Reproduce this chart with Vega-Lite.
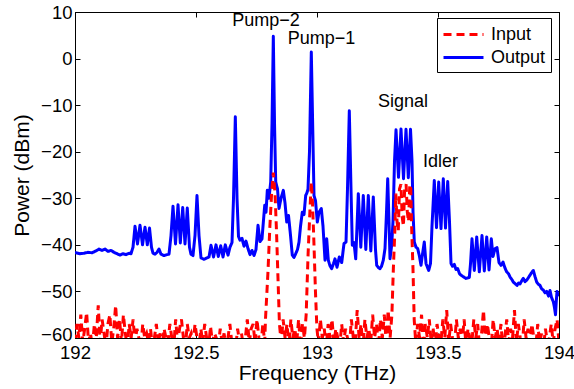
{
  "$schema": "https://vega.github.io/schema/vega-lite/v6.json",
  "width": 484,
  "height": 326,
  "autosize": "none",
  "padding": {"left": 75, "top": 12, "right": 15, "bottom": 51},
  "background": "white",
  "datasets": {
    "output": [
      {"f":192.0000,"p":-41.7},{"f":192.0042,"p":-41.7},{"f":192.0207,"p":-41.9},{"f":192.0372,"p":-41.8},{"f":192.0537,"p":-41.6},{"f":192.0703,"p":-41.7},{"f":192.0868,"p":-41.3},{"f":192.0992,"p":-40.9},{"f":192.1116,"p":-41.2},{"f":192.1240,"p":-40.9},{"f":192.1364,"p":-41.4},{"f":192.1488,"p":-41.2},{"f":192.1612,"p":-41.6},{"f":192.1736,"p":-41.9},{"f":192.1859,"p":-42.2},{"f":192.1984,"p":-41.9},{"f":192.2107,"p":-42.1},{"f":192.2232,"p":-41.8},{"f":192.2314,"p":-41.9},
      {"f":192.2397,"p":-40.5},{"f":192.2480,"p":-36.0},{"f":192.2583,"p":-39.8},{"f":192.2686,"p":-35.8},{"f":192.2790,"p":-40.0},{"f":192.2893,"p":-36.2},{"f":192.2988,"p":-40.0},{"f":192.3079,"p":-36.4},{"f":192.3161,"p":-40.5},{"f":192.3223,"p":-41.8},{"f":192.3306,"p":-42.0},{"f":192.3389,"p":-41.6},{"f":192.3471,"p":-40.9},{"f":192.3554,"p":-42.0},{"f":192.3678,"p":-42.3},{"f":192.3802,"p":-42.1},{"f":192.3884,"p":-42.0},
      {"f":192.3967,"p":-38.0},{"f":192.4050,"p":-31.7},{"f":192.4153,"p":-39.8},{"f":192.4257,"p":-31.4},{"f":192.4352,"p":-39.6},{"f":192.4451,"p":-32.0},{"f":192.4546,"p":-39.8},{"f":192.4640,"p":-32.1},{"f":192.4731,"p":-40.5},{"f":192.4793,"p":-42.0},{"f":192.4876,"p":-42.3},{"f":192.4959,"p":-38.0},{"f":192.5041,"p":-29.4},{"f":192.5124,"p":-38.0},{"f":192.5207,"p":-42.8},{"f":192.5331,"p":-43.1},{"f":192.5454,"p":-42.8},{"f":192.5537,"p":-42.6},
      {"f":192.5620,"p":-40.1},{"f":192.5724,"p":-42.6},{"f":192.5827,"p":-40.0},{"f":192.5922,"p":-42.5},{"f":192.6021,"p":-40.2},{"f":192.6116,"p":-42.6},{"f":192.6211,"p":-40.0},{"f":192.6323,"p":-42.2},{"f":192.6405,"p":-40.5},{"f":192.6488,"p":-39.5},{"f":192.6550,"p":-30.0},{"f":192.6625,"p":-12.5},{"f":192.6695,"p":-30.0},{"f":192.6756,"p":-38.2},{"f":192.6818,"p":-39.0},{"f":192.6901,"p":-38.6},{"f":192.6984,"p":-40.3},{"f":192.7066,"p":-39.2},{"f":192.7149,"p":-40.8},{"f":192.7232,"p":-42.1},{"f":192.7314,"p":-41.2},{"f":192.7397,"p":-42.3},{"f":192.7479,"p":-41.0},{"f":192.7562,"p":-35.8},{"f":192.7645,"p":-39.3},{"f":192.7727,"p":-38.7},{"f":192.7840,"p":-31.5},{"f":192.7893,"p":-33.0},{"f":192.7947,"p":-28.3},{"f":192.8017,"p":-30.0},{"f":192.8087,"p":-26.5},{"f":192.8141,"p":-14.0},{"f":192.8195,"p":4.8},{"f":192.8245,"p":-14.0},{"f":192.8294,"p":-26.5},{"f":192.8368,"p":-28.0},{"f":192.8430,"p":-32.2},{"f":192.8513,"p":-30.0},{"f":192.8608,"p":-28.3},{"f":192.8678,"p":-31.0},{"f":192.8749,"p":-35.1},{"f":192.8823,"p":-33.7},{"f":192.8906,"p":-38.0},{"f":192.8979,"p":-42.2},{"f":192.9049,"p":-42.7},{"f":192.9120,"p":-41.9},{"f":192.9194,"p":-41.0},{"f":192.9257,"p":-39.4},{"f":192.9319,"p":-36.0},{"f":192.9392,"p":-33.0},{"f":192.9463,"p":-33.5},{"f":192.9533,"p":-29.4},{"f":192.9587,"p":-28.8},{"f":192.9628,"p":-28.0},{"f":192.9690,"p":-20.0},{"f":192.9765,"p":1.4},{"f":192.9835,"p":-18.0},{"f":192.9876,"p":-29.4},{"f":192.9938,"p":-30.5},{"f":193.0013,"p":-35.1},{"f":193.0083,"p":-33.0},{"f":193.0178,"p":-32.2},{"f":193.0248,"p":-36.0},
      {"f":193.0331,"p":-43.3},{"f":193.0401,"p":-38.7},{"f":193.0467,"p":-43.3},{"f":193.0538,"p":-44.5},{"f":193.0607,"p":-45.1},{"f":193.0682,"p":-44.0},{"f":193.0744,"p":-43.0},{"f":193.0827,"p":-44.8},{"f":193.0921,"p":-42.6},{"f":193.1021,"p":-43.8},{"f":193.1116,"p":-39.7},{"f":193.1199,"p":-39.4},{"f":193.1260,"p":-28.0},{"f":193.1335,"p":-11.2},{"f":193.1405,"p":-28.0},{"f":193.1459,"p":-40.1},{"f":193.1529,"p":-39.5},{"f":193.1600,"p":-43.0},
      {"f":193.1707,"p":-29.0},{"f":193.1810,"p":-40.5},{"f":193.1913,"p":-29.4},{"f":193.2017,"p":-41.0},{"f":193.2120,"p":-29.4},{"f":193.2223,"p":-41.3},{"f":193.2326,"p":-29.7},{"f":193.2417,"p":-41.0},{"f":193.2467,"p":-44.4},{"f":193.2541,"p":-44.9},{"f":193.2604,"p":-45.1},{"f":193.2666,"p":-44.6},{"f":193.2739,"p":-43.3},{"f":193.2810,"p":-40.8},{"f":193.2872,"p":-33.0},{"f":193.2922,"p":-25.8},{"f":193.2975,"p":-35.0},{"f":193.3017,"p":-43.0},{"f":193.3087,"p":-40.0},{"f":193.3140,"p":-35.0},
      {"f":193.3203,"p":-22.0},{"f":193.3265,"p":-15.3},{"f":193.3368,"p":-25.5},{"f":193.3471,"p":-15.1},{"f":193.3575,"p":-25.8},{"f":193.3678,"p":-15.2},{"f":193.3773,"p":-25.6},{"f":193.3864,"p":-15.2},{"f":193.3926,"p":-22.0},{"f":193.3968,"p":-33.0},{"f":193.4021,"p":-39.4},{"f":193.4091,"p":-40.5},{"f":193.4161,"p":-40.8},{"f":193.4236,"p":-42.5},{"f":193.4298,"p":-44.4},{"f":193.4359,"p":-42.0},{"f":193.4434,"p":-39.4},{"f":193.4504,"p":-44.0},{"f":193.4615,"p":-45.5},{"f":193.4690,"p":-44.0},{"f":193.4752,"p":-36.0},
      {"f":193.4847,"p":-26.2},{"f":193.4938,"p":-36.3},{"f":193.5029,"p":-26.5},{"f":193.5124,"p":-36.5},{"f":193.5219,"p":-25.8},{"f":193.5310,"p":-36.4},{"f":193.5401,"p":-26.4},{"f":193.5475,"p":-35.0},{"f":193.5538,"p":-44.0},{"f":193.5600,"p":-44.6},{"f":193.5673,"p":-44.2},{"f":193.5744,"p":-45.3},{"f":193.5814,"p":-45.1},{"f":193.5889,"p":-46.2},{"f":193.5951,"p":-46.5},{"f":193.6033,"p":-46.8},{"f":193.6157,"p":-47.2},{"f":193.6294,"p":-47.0},
      {"f":193.6344,"p":-44.0},{"f":193.6405,"p":-38.7},{"f":193.6501,"p":-45.5},{"f":193.6600,"p":-38.3},{"f":193.6707,"p":-45.8},{"f":193.6818,"p":-38.0},{"f":193.6914,"p":-45.6},{"f":193.7013,"p":-38.3},{"f":193.7108,"p":-45.4},{"f":193.7203,"p":-38.7},{"f":193.7273,"p":-42.5},{"f":193.7356,"p":-40.8},{"f":193.7438,"p":-40.6},{"f":193.7521,"p":-43.8},{"f":193.7603,"p":-44.4},{"f":193.7686,"p":-43.7},{"f":193.7769,"p":-45.0},{"f":193.7839,"p":-45.8},{"f":193.7914,"p":-46.2},{"f":193.7976,"p":-46.9},{"f":193.8058,"p":-47.5},{"f":193.8112,"p":-48.0},{"f":193.8182,"p":-48.3},{"f":193.8265,"p":-48.7},{"f":193.8327,"p":-48.2},{"f":193.8389,"p":-48.4},{"f":193.8472,"p":-47.6},{"f":193.8525,"p":-47.2},{"f":193.8595,"p":-47.9},{"f":193.8678,"p":-47.5},{"f":193.8740,"p":-47.0},{"f":193.8802,"p":-46.5},{"f":193.8863,"p":-46.0},{"f":193.8938,"p":-45.5},{"f":193.9008,"p":-46.8},{"f":193.9079,"p":-48.0},{"f":193.9153,"p":-48.5},{"f":193.9215,"p":-48.7},{"f":193.9277,"p":-49.4},{"f":193.9351,"p":-49.7},{"f":193.9421,"p":-50.3},{"f":193.9492,"p":-50.0},{"f":193.9566,"p":-51.0},{"f":193.9628,"p":-49.8},{"f":193.9691,"p":-51.3},{"f":193.9765,"p":-52.2},{"f":193.9814,"p":-53.5},{"f":193.9856,"p":-55.0},{"f":193.9889,"p":-52.0},{"f":193.9918,"p":-50.0},{"f":193.9959,"p":-50.7},{"f":194.0000,"p":-51.0}
    ],
    "input": [
      {"f":192.000,"p":-61},{"f":192.008,"p":-57},{"f":192.016,"p":-60},{"f":192.024,"p":-55},{"f":192.032,"p":-61},{"f":192.040,"p":-58},{"f":192.048,"p":-54.5},{"f":192.056,"p":-61},{"f":192.064,"p":-59},{"f":192.072,"p":-62},{"f":192.080,"p":-57},{"f":192.088,"p":-60},{"f":192.096,"p":-53},{"f":192.104,"p":-61},{"f":192.112,"p":-56},{"f":192.120,"p":-59},{"f":192.128,"p":-62},{"f":192.136,"p":-57},{"f":192.144,"p":-55},{"f":192.152,"p":-61},{"f":192.160,"p":-58},{"f":192.168,"p":-53},{"f":192.176,"p":-60},{"f":192.184,"p":-56},{"f":192.192,"p":-61},{"f":192.200,"p":-55},{"f":192.208,"p":-59},{"f":192.216,"p":-62},{"f":192.224,"p":-57},{"f":192.232,"p":-60},{"f":192.240,"p":-56},{"f":192.248,"p":-61},{"f":192.256,"p":-58},{"f":192.264,"p":-60},{"f":192.272,"p":-62},{"f":192.280,"p":-57},{"f":192.288,"p":-60},{"f":192.296,"p":-59},{"f":192.304,"p":-61},{"f":192.312,"p":-58},{"f":192.320,"p":-62},{"f":192.328,"p":-60},{"f":192.336,"p":-57},{"f":192.344,"p":-61},{"f":192.352,"p":-59},{"f":192.360,"p":-62},{"f":192.368,"p":-58},{"f":192.376,"p":-60},{"f":192.384,"p":-61},{"f":192.392,"p":-57},{"f":192.400,"p":-60},{"f":192.408,"p":-62},{"f":192.416,"p":-56},{"f":192.424,"p":-61},{"f":192.432,"p":-58},{"f":192.440,"p":-56},{"f":192.448,"p":-60},{"f":192.456,"p":-62},{"f":192.464,"p":-57},{"f":192.472,"p":-60},{"f":192.480,"p":-59},{"f":192.488,"p":-61},{"f":192.496,"p":-57},{"f":192.504,"p":-60},{"f":192.512,"p":-62},{"f":192.520,"p":-58},{"f":192.528,"p":-61},{"f":192.536,"p":-57},{"f":192.544,"p":-60},{"f":192.552,"p":-62},{"f":192.560,"p":-57.5},{"f":192.568,"p":-61},{"f":192.576,"p":-59},{"f":192.584,"p":-60},{"f":192.592,"p":-62},{"f":192.600,"p":-58},{"f":192.608,"p":-61},{"f":192.616,"p":-59},{"f":192.624,"p":-62},{"f":192.632,"p":-60},{"f":192.640,"p":-57},{"f":192.648,"p":-61},{"f":192.656,"p":-60},{"f":192.664,"p":-62},{"f":192.672,"p":-58},{"f":192.680,"p":-61},{"f":192.688,"p":-59},{"f":192.696,"p":-62},{"f":192.704,"p":-60},{"f":192.712,"p":-56},{"f":192.720,"p":-61},{"f":192.728,"p":-58},{"f":192.736,"p":-57},{"f":192.744,"p":-61},{"f":192.752,"p":-56},{"f":192.760,"p":-60},{"f":192.768,"p":-62},{"f":192.776,"p":-57},{"f":192.784,"p":-61},
      {"f":192.7871,"p":-56},{"f":192.7972,"p":-46},{"f":192.8053,"p":-36},{"f":192.8124,"p":-29},{"f":192.8195,"p":-24.5},{"f":192.8266,"p":-29},{"f":192.8326,"p":-37},{"f":192.8387,"p":-47},{"f":192.8448,"p":-57},
      {"f":192.852,"p":-61},{"f":192.860,"p":-56},{"f":192.868,"p":-60},{"f":192.876,"p":-57},{"f":192.884,"p":-62},{"f":192.892,"p":-56},{"f":192.900,"p":-60},{"f":192.908,"p":-58},{"f":192.916,"p":-61},{"f":192.924,"p":-56},{"f":192.932,"p":-62},{"f":192.940,"p":-57},{"f":192.948,"p":-60},
      {"f":192.9552,"p":-55},{"f":192.9632,"p":-42},{"f":192.9713,"p":-32},{"f":192.9764,"p":-26.5},{"f":192.9815,"p":-31},{"f":192.9876,"p":-40},{"f":192.9936,"p":-50},{"f":192.9997,"p":-58},
      {"f":193.006,"p":-61},{"f":193.014,"p":-56},{"f":193.022,"p":-60},{"f":193.030,"p":-58},{"f":193.038,"p":-62},{"f":193.046,"p":-57},{"f":193.054,"p":-60},{"f":193.062,"p":-56},{"f":193.070,"p":-61},{"f":193.078,"p":-58},{"f":193.086,"p":-60},{"f":193.094,"p":-62},{"f":193.102,"p":-57},{"f":193.110,"p":-61},{"f":193.118,"p":-58},{"f":193.126,"p":-60},{"f":193.134,"p":-62},{"f":193.142,"p":-56},{"f":193.150,"p":-60},{"f":193.158,"p":-61},{"f":193.166,"p":-54},{"f":193.174,"p":-60},{"f":193.182,"p":-57},{"f":193.190,"p":-62},{"f":193.198,"p":-56},{"f":193.206,"p":-60},{"f":193.214,"p":-58},{"f":193.222,"p":-61},{"f":193.230,"p":-55},{"f":193.238,"p":-60},{"f":193.246,"p":-57},{"f":193.254,"p":-62},{"f":193.262,"p":-56},{"f":193.270,"p":-60},{"f":193.278,"p":-55},{"f":193.286,"p":-61},{"f":193.294,"p":-54},{"f":193.302,"p":-60},
      {"f":193.3095,"p":-55},{"f":193.3156,"p":-45},{"f":193.3216,"p":-37},{"f":193.3257,"p":-29},{"f":193.3307,"p":-35},{"f":193.3358,"p":-37},{"f":193.3409,"p":-28},{"f":193.3469,"p":-27},{"f":193.3520,"p":-34},{"f":193.3571,"p":-36},{"f":193.3621,"p":-28},{"f":193.3682,"p":-27},{"f":193.3733,"p":-33},{"f":193.3783,"p":-35},{"f":193.3834,"p":-27},{"f":193.3875,"p":-28},{"f":193.3915,"p":-37},{"f":193.3966,"p":-45},{"f":193.4016,"p":-56},
      {"f":193.408,"p":-61},{"f":193.416,"p":-57},{"f":193.424,"p":-60},{"f":193.432,"p":-55},{"f":193.440,"p":-62},{"f":193.448,"p":-57},{"f":193.456,"p":-60},{"f":193.464,"p":-56},{"f":193.472,"p":-61},{"f":193.480,"p":-58},{"f":193.488,"p":-62},{"f":193.496,"p":-57},{"f":193.504,"p":-60},{"f":193.512,"p":-61},{"f":193.520,"p":-56},{"f":193.528,"p":-60},{"f":193.536,"p":-54},{"f":193.544,"p":-61},{"f":193.552,"p":-57},{"f":193.560,"p":-60},{"f":193.568,"p":-62},{"f":193.576,"p":-56},{"f":193.584,"p":-60},{"f":193.592,"p":-58},{"f":193.600,"p":-61},{"f":193.608,"p":-56},{"f":193.616,"p":-62},{"f":193.624,"p":-58},{"f":193.632,"p":-60},{"f":193.640,"p":-61},{"f":193.648,"p":-56},{"f":193.656,"p":-60},{"f":193.664,"p":-57},{"f":193.672,"p":-62},{"f":193.680,"p":-59},{"f":193.688,"p":-54},{"f":193.696,"p":-61},{"f":193.704,"p":-57},{"f":193.712,"p":-60},{"f":193.720,"p":-62},{"f":193.728,"p":-56},{"f":193.736,"p":-60},{"f":193.744,"p":-58},{"f":193.752,"p":-61},{"f":193.760,"p":-57},{"f":193.768,"p":-62},{"f":193.776,"p":-60},{"f":193.784,"p":-56},{"f":193.792,"p":-61},{"f":193.800,"p":-58},{"f":193.808,"p":-60},{"f":193.816,"p":-54},{"f":193.824,"p":-61},{"f":193.832,"p":-57},{"f":193.840,"p":-60},{"f":193.848,"p":-62},{"f":193.856,"p":-56},{"f":193.864,"p":-60},{"f":193.872,"p":-58},{"f":193.880,"p":-61},{"f":193.888,"p":-57},{"f":193.896,"p":-60},{"f":193.904,"p":-62},{"f":193.912,"p":-57},{"f":193.920,"p":-61},{"f":193.928,"p":-59},{"f":193.936,"p":-62},{"f":193.944,"p":-58},{"f":193.952,"p":-61},{"f":193.960,"p":-60},{"f":193.968,"p":-57},{"f":193.976,"p":-61},{"f":193.984,"p":-58},{"f":193.992,"p":-56},{"f":194.000,"p":-61}
    ],
    "labels": [
      {"label":"Pump−2","f":192.789,"p":8.0},
      {"label":"Pump−1","f":193.019,"p":4.1},
      {"label":"Signal","f":193.355,"p":-9.4},
      {"label":"Idler","f":193.510,"p":-22.3}
    ]
  },
  "layer": [
    {
      "data": {"name": "output"},
      "transform": [{"calculate": "'Output'", "as": "series"}],
      "mark": {"type": "line", "strokeWidth": 3, "clip": true, "strokeJoin": "round"},
      "encoding": {
        "x": {"field": "f", "type": "quantitative", "scale": {"domain": [192, 194], "nice": false, "zero": false},
          "axis": {"orient": "bottom", "values": [192, 192.5, 193, 193.5, 194], "format": "~f", "title": "Frequency (THz)"}},
        "y": {"field": "p", "type": "quantitative", "scale": {"domain": [-60, 10], "nice": false, "zero": false},
          "axis": {"orient": "left", "values": [-60, -50, -40, -30, -20, -10, 0, 10], "format": "d", "title": "Power (dBm)",
            "labelOffset": {"condition": {"test": "datum.value === -60", "value": -4}, "value": 0}}},
        "color": {"field": "series", "type": "nominal", "scale": {"domain": ["Input", "Output"], "range": ["#ff0000", "#0000ff"]}, "legend": {"title": null}},
        "strokeDash": {"field": "series", "type": "nominal", "scale": {"domain": ["Input", "Output"], "range": [[8, 5], [1, 0]]}, "legend": {"title": null}}
      }
    },
    {
      "data": {"name": "input"},
      "transform": [{"calculate": "'Input'", "as": "series"}],
      "mark": {"type": "line", "strokeWidth": 3, "clip": true},
      "encoding": {
        "x": {"field": "f", "type": "quantitative",
          "axis": {"orient": "top", "values": [192, 192.5, 193, 193.5, 194], "labels": false, "title": null}},
        "y": {"field": "p", "type": "quantitative",
          "axis": {"orient": "right", "values": [-60, -50, -40, -30, -20, -10, 0, 10], "labels": false, "title": null}},
        "color": {"field": "series", "type": "nominal", "legend": {"title": null}},
        "strokeDash": {"field": "series", "type": "nominal", "legend": {"title": null}}
      }
    },
    {
      "data": {"name": "labels"},
      "mark": {"type": "text", "font": "Liberation Sans", "fontSize": 18, "align": "center", "baseline": "middle", "color": "black"},
      "encoding": {
        "x": {"field": "f", "type": "quantitative", "axis": null},
        "y": {"field": "p", "type": "quantitative", "axis": null},
        "text": {"field": "label"}
      }
    }
  ],
  "resolve": {"axis": {"x": "independent", "y": "independent"}},
  "config": {
    "view": {"stroke": "black", "strokeWidth": 1},
    "font": "Liberation Sans",
    "axis": {
      "grid": false,
      "domainColor": "black",
      "domainWidth": 1,
      "tickColor": "black",
      "tickSize": -5,
      "tickWidth": 1,
      "labelFlush": false,
      "labelOverlap": false,
      "labelFont": "Liberation Sans",
      "labelFontSize": 18.5,
      "labelColor": "black",
      "titleFont": "Liberation Sans",
      "titleFontSize": 21,
      "titleFontWeight": "normal",
      "titleColor": "black"
    },
    "axisX": {"labelPadding": 10, "titlePadding": 1},
    "axisY": {"labelPadding": 8, "titlePadding": 8},
    "legend": {
      "orient": "none",
      "legendX": 362,
      "legendY": 6,
      "direction": "vertical",
      "fillColor": "white",
      "strokeColor": "black",
      "padding": 5,
      "symbolType": "M-1,0L3,0",
      "symbolSize": 400,
      "symbolStrokeWidth": 3,
      "labelFont": "Liberation Sans",
      "labelFontSize": 18,
      "labelColor": "black",
      "labelOffset": 26,
      "rowPadding": 2
    }
  }
}
